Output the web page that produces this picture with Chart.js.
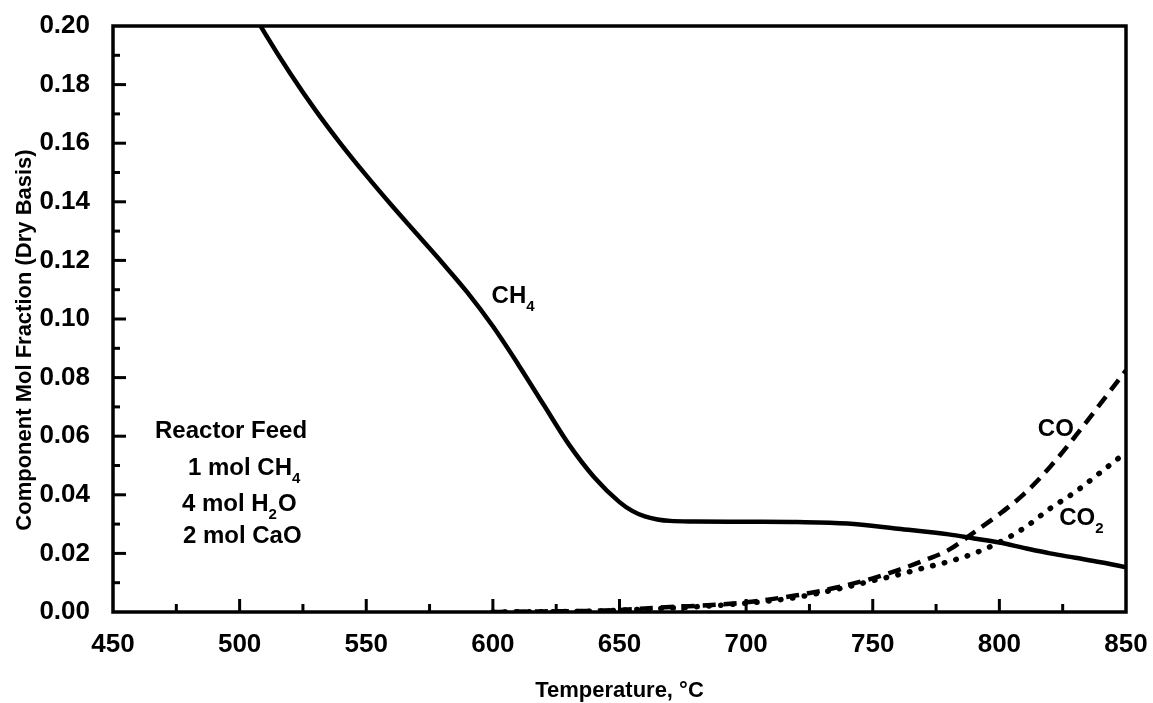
<!DOCTYPE html>
<html><head><meta charset="utf-8">
<script src="https://cdn.jsdelivr.net/npm/chart.js@4.4.0/dist/chart.umd.min.js"></script>
<style>html,body{margin:0;padding:0;background:#fff;}canvas{display:block;}</style>
</head><body>
<canvas id="c" width="1153" height="703"></canvas>
<script>
// ---- data ----
const ch4Temp = [500,510,520,530,540,550,560,570,580,590,600,610,620,630,640,650,655,660,665,670,680,700,720,740,760,780,790,800,810,820,830,840,850];
const ch4Frac = [0.2125,0.1975,0.1838,0.1712,0.1597,0.1490,0.1388,0.1290,0.1192,0.1090,0.0975,0.0845,0.0708,0.0572,0.0460,0.0375,0.0345,0.0326,0.0316,0.0311,0.0309,0.0308,0.0307,0.0302,0.0284,0.0265,0.0251,0.0237,0.0218,0.0200,0.0185,0.0170,0.0153];
const coTemp = [600,620,640,650,660,670,680,690,700,710,720,730,740,750,760,770,780,790,800,810,820,830,840,850];
const coFrac = [0,0.0002,0.0004,0.0007,0.0012,0.0017,0.0021,0.0026,0.0033,0.0044,0.0057,0.0073,0.0092,0.0115,0.0143,0.0175,0.0212,0.0272,0.0334,0.0405,0.0495,0.0600,0.0712,0.0825];
const co2Temp = [600,640,660,680,700,720,740,750,760,770,780,790,800,810,820,830,840,850];
const co2Frac = [0,0.0003,0.001,0.0018,0.003,0.005,0.0086,0.0107,0.0127,0.0150,0.0172,0.0200,0.0238,0.0288,0.0353,0.0410,0.0477,0.0545];
const xTickValues = [450,500,550,600,650,700,750,800,850];
const yTickValues = [0.00,0.02,0.04,0.06,0.08,0.10,0.12,0.14,0.16,0.18,0.20];
const xTitle = 'Temperature, \u00B0C';
const yTitle = 'Component Mol Fraction (Dry Basis)';

const FONT = '"Liberation Sans", Arial, Helvetica, sans-serif';

// annotation texts (anchor in data coordinates; parts: [text, isSubscript])
const annotations = [
  {t:599.5, v:0.1055, parts:[['CH',0],['4',1]]},
  {t:815.2, v:0.0601, parts:[['CO',0]]},
  {t:823.6, v:0.0297, parts:[['CO',0],['2',1]]},
  {t:466.6, v:0.0594, parts:[['Reactor Feed',0]]},
  {t:479.6, v:0.0466, parts:[['1 mol CH',0],['4',1]]},
  {t:477.2, v:0.0345, parts:[['4 mol H',0],['2',1],['O',0]]},
  {t:477.6, v:0.0235, parts:[['2 mol CaO',0]]}
];

const toPts = (xs, ys) => xs.map((x,i)=>({x:x, y:ys[i]}));

const framePlugin = {
  id:'frame',
  afterDatasetsDraw(chart){
    const {ctx, chartArea:a, scales:{x, y}} = chart;
    ctx.save();
    ctx.strokeStyle = '#000';
    ctx.lineWidth = 3;
    ctx.lineCap = 'butt';
    // inward ticks
    for (let t = 475; t < 850; t += 25) {
      const px = x.getPixelForValue(t);
      const len = (t % 50 === 0) ? 13 : 8;
      ctx.beginPath(); ctx.moveTo(px, a.bottom); ctx.lineTo(px, a.bottom - len); ctx.stroke();
    }
    for (let k = 1; k < 20; k++) {
      const v = k * 0.01;
      const py = y.getPixelForValue(v);
      const len = (k % 2 === 0) ? 13 : 7;
      ctx.beginPath(); ctx.moveTo(a.left, py); ctx.lineTo(a.left + len, py); ctx.stroke();
    }
    ctx.lineWidth = 3.5;
    ctx.strokeRect(a.left, a.top, a.right - a.left, a.bottom - a.top);
    // annotations
    ctx.fillStyle = '#000';
    ctx.textBaseline = 'alphabetic';
    ctx.textAlign = 'left';
    for (const an of annotations) {
      let px = x.getPixelForValue(an.t);
      const py = y.getPixelForValue(an.v);
      for (const [txt, sub] of an.parts) {
        ctx.font = sub ? 'bold 15px ' + FONT : 'bold 24px ' + FONT;
        ctx.fillText(txt, px, sub ? py + 8 : py);
        px += ctx.measureText(txt).width + (sub ? 1 : 0);
      }
    }
    // axis titles
    ctx.font = 'bold 22px ' + FONT;
    ctx.textAlign = 'center';
    ctx.textBaseline = 'middle';
    ctx.fillText(xTitle, (a.left + a.right) / 2, 691);
    ctx.save();
    ctx.translate(25, 340);
    ctx.rotate(-Math.PI / 2);
    ctx.font = 'bold 22px ' + FONT;
    ctx.fillText(yTitle, 0, 0);
    ctx.restore();
    ctx.restore();
  }
};

new Chart(document.getElementById('c'), {
  type: 'line',
  data: {
    datasets: [
      {label:'CH4', data: toPts(ch4Temp, ch4Frac), borderColor:'#000', borderWidth:4.5, pointRadius:0, fill:false, cubicInterpolationMode:'monotone'},
      {label:'CO', data: toPts(coTemp, coFrac), borderColor:'#000', borderWidth:4.5, borderDash:[13,8], pointRadius:0, fill:false, cubicInterpolationMode:'monotone'},
      {label:'CO2', data: toPts(co2Temp, co2Frac), borderColor:'#000', borderWidth:5.5, borderDash:[0.5,11.5], borderCapStyle:'round', pointRadius:0, fill:false, cubicInterpolationMode:'monotone'}
    ]
  },
  options: {
    responsive:false,
    animation:false,
    devicePixelRatio:1,
    layout:{padding:{top:26, right:27, left:0, bottom:0}},
    plugins:{legend:{display:false}, tooltip:{enabled:false}},
    scales:{
      x:{
        type:'linear', min:450, max:850,
        afterBuildTicks: s => { s.ticks = xTickValues.map(v=>({value:v})); },
        afterFit: s => { s.height = 91; s.paddingLeft = 0; s.paddingRight = 0; },
        grid:{display:false}, border:{display:false},
        ticks:{color:'#000', padding:9, font:{family:FONT, size:26, weight:'bold'}, maxRotation:0}
      },
      y:{
        type:'linear', min:0, max:0.2,
        afterBuildTicks: s => { s.ticks = yTickValues.map(v=>({value:v})); },
        afterFit: s => { s.width = 113; s.paddingTop = 0; s.paddingBottom = 0; },
        grid:{display:false}, border:{display:false},
        ticks:{color:'#000', padding:15, font:{family:FONT, size:26, weight:'bold'}, callback: v => Number(v).toFixed(2)}
      }
    }
  },
  plugins:[framePlugin]
});
</script>
</body></html>
